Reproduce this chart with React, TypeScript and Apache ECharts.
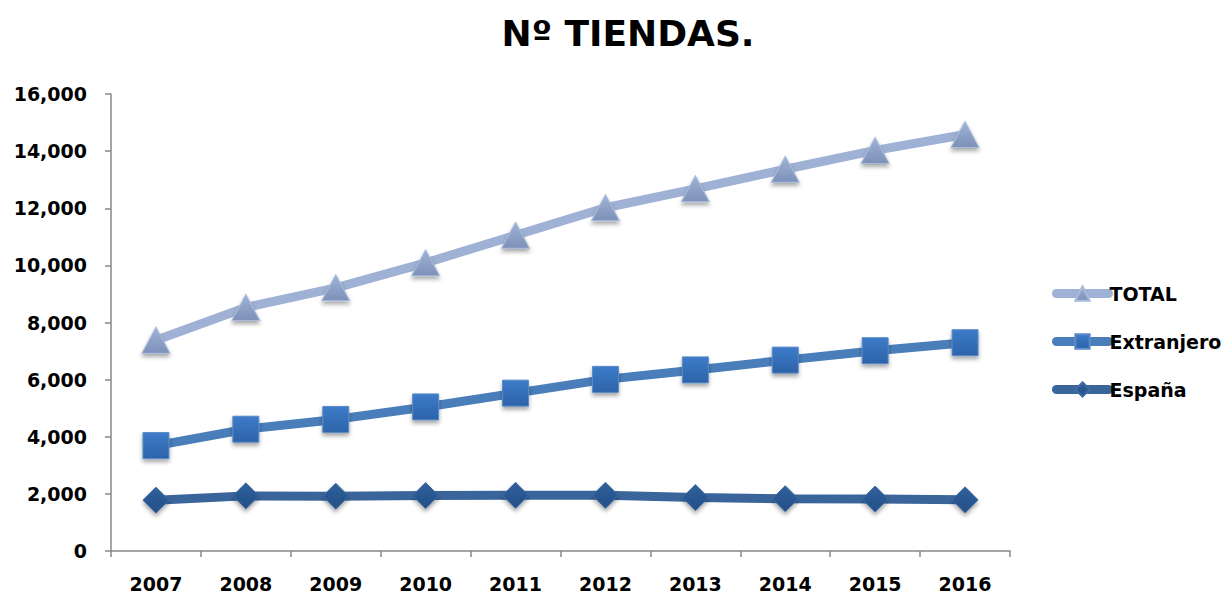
import React, { useEffect, useRef } from "react";
import * as echarts from "echarts";

const years = ["2007", "2008", "2009", "2010", "2011", "2012", "2013", "2014", "2015", "2016"];
const total = [7382, 8528, 9214, 10088, 11054, 12018, 12680, 13366, 14026, 14584];
const extranjero = [3691, 4264, 4607, 5044, 5527, 6009, 6340, 6683, 7013, 7292];
const espana = [1780, 1930, 1920, 1940, 1950, 1950, 1870, 1830, 1820, 1790];

const FONT = "'DejaVu Sans', sans-serif";

export default function App() {
  const ref = useRef<HTMLDivElement>(null);
  useEffect(() => {
    if (!ref.current) return;
    const chart = echarts.init(ref.current, undefined, { renderer: "svg" });
    const shadow = { shadowBlur: 4, shadowOffsetY: 3, shadowColor: "rgba(0,0,0,0.35)" };
    const grad = (c1: string, c2: string) =>
      new echarts.graphic.LinearGradient(0, 0, 0, 1, [
        { offset: 0, color: c1 },
        { offset: 1, color: c2 },
      ]);
    chart.setOption({
      animation: false,
      backgroundColor: "#ffffff",
      title: {
        text: "Nº TIENDAS.",
        left: 623,
        textAlign: "center",
        top: 10,
        textStyle: { fontFamily: FONT, fontSize: 36, fontWeight: "bold", color: "#000" },
      },
      legend: {
        orient: "vertical",
        left: 1052,
        top: 284,
        padding: 0,
        itemWidth: 52,
        itemHeight: 18,
        itemGap: 29,
        data: ["TOTAL", "Extranjero", "España"],
        lineStyle: { width: 9, cap: "round" },
        textStyle: { fontFamily: FONT, fontSize: 19, fontWeight: "bold", color: "#000", padding: [0, 0, 0, -4] },
      },
      grid: { left: 111, right: 217, top: 94, bottom: 43 },
      xAxis: {
        type: "category",
        data: years,
        boundaryGap: true,
        axisLine: { lineStyle: { color: "#888", width: 1.5 } },
        axisTick: { show: true, length: 6, lineStyle: { color: "#888", width: 1.5 } },
        axisLabel: { margin: 23, fontFamily: FONT, fontSize: 19, fontWeight: "bold", color: "#000" },
      },
      yAxis: {
        type: "value",
        min: 0,
        max: 16000,
        interval: 2000,
        splitLine: { show: false },
        axisLine: { show: true, lineStyle: { color: "#888", width: 1.5 } },
        axisTick: { show: true, length: 6, lineStyle: { color: "#888", width: 1.5 } },
        axisLabel: {
          margin: 24,
          fontFamily: FONT,
          fontSize: 19,
          fontWeight: "bold",
          color: "#000",
          formatter: (v: number) => v.toLocaleString("en-US"),
        },
      },
      series: [
        {
          name: "TOTAL",
          type: "line",
          data: total,
          symbol: "triangle",
          symbolSize: [28, 26],
          lineStyle: { color: "#9fb1d4", width: 9 },
          itemStyle: { color: grad("#9fb2d6", "#7d91b9"), borderColor: "#a9bbdc", borderWidth: 1, ...shadow },
          color: "#9fb1d4",
          z: 3,
        },
        {
          name: "Extranjero",
          type: "line",
          data: extranjero,
          symbol: "rect",
          symbolSize: 26,
          lineStyle: { color: "#4a7ebb", width: 9 },
          itemStyle: { color: grad("#3d7bc9", "#2c63a8"), borderColor: "#5a8bc8", borderWidth: 1, ...shadow },
          color: "#4a7ebb",
          z: 2,
        },
        {
          name: "España",
          type: "line",
          data: espana,
          symbol: "diamond",
          symbolSize: 26,
          lineStyle: { color: "#3a659b", width: 9 },
          itemStyle: { color: grad("#30609c", "#234f86"), borderColor: "#3f6ca4", borderWidth: 1, ...shadow },
          color: "#3a659b",
          z: 1,
        },
      ],
    });
    return () => chart.dispose();
  }, []);
  return <div ref={ref} style={{ width: 1227, height: 594, position: "absolute", left: 0, top: 0 }} />;
}
